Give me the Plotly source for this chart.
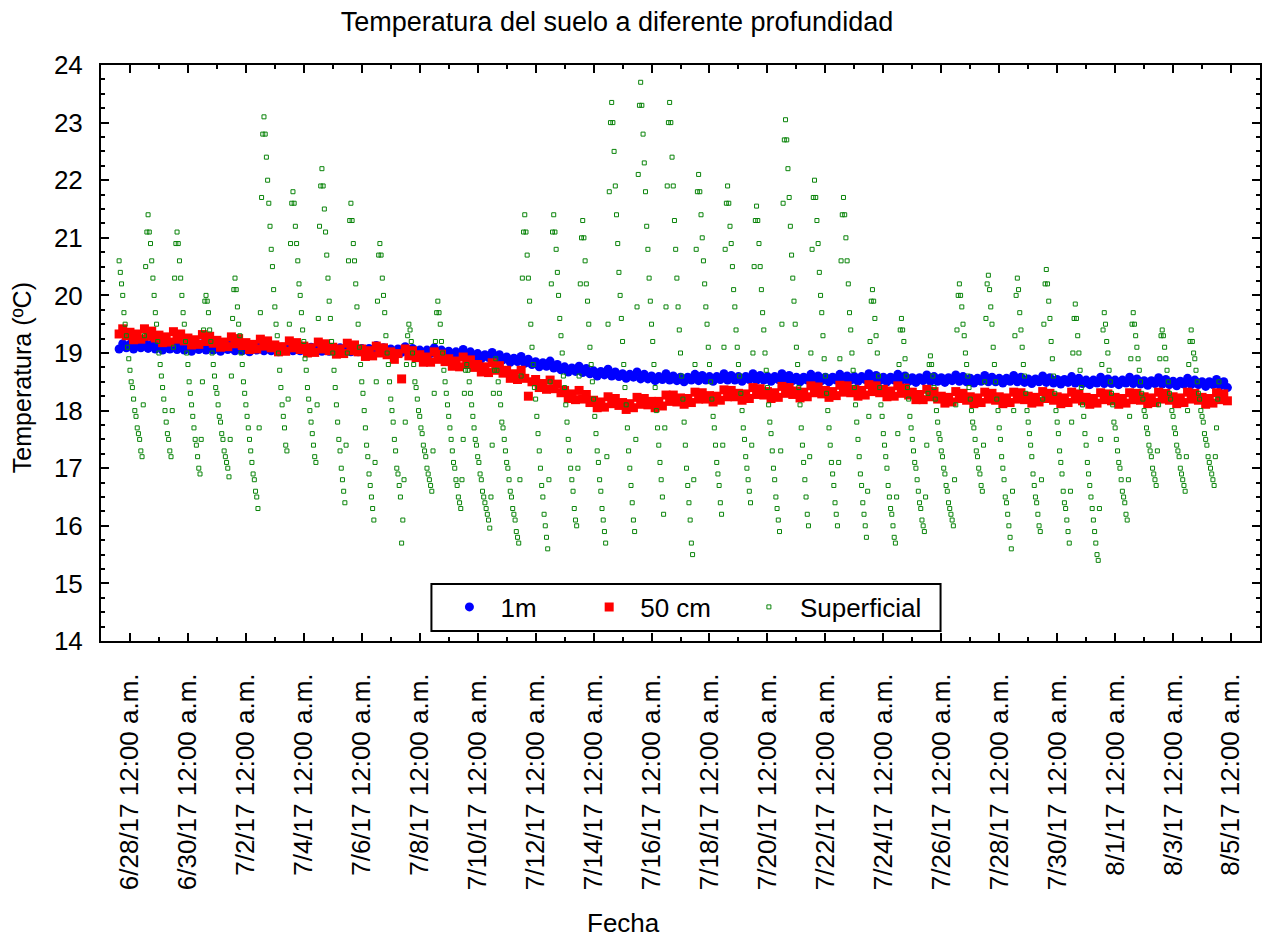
import pandas as pd
import plotly.graph_objects as go

title_text = "Temperatura del suelo a diferente profundidad"
x_title = "Fecha"
y_title = "Temperatura (ºC)"
series_names = ["1m", "50 cm", "Superficial"]

tick_dates = ["2017-06-28", "2017-06-30", "2017-07-02", "2017-07-04", "2017-07-06",
              "2017-07-08", "2017-07-10", "2017-07-12", "2017-07-14", "2017-07-16",
              "2017-07-18", "2017-07-20", "2017-07-22", "2017-07-24", "2017-07-26",
              "2017-07-28", "2017-07-30", "2017-08-01", "2017-08-03", "2017-08-05"]
tick_labels = ["6/28/17 12:00 a.m.", "6/30/17 12:00 a.m.", "7/2/17 12:00 a.m.", "7/4/17 12:00 a.m.",
               "7/6/17 12:00 a.m.", "7/8/17 12:00 a.m.", "7/10/17 12:00 a.m.", "7/12/17 12:00 a.m.",
               "7/14/17 12:00 a.m.", "7/16/17 12:00 a.m.", "7/18/17 12:00 a.m.", "7/20/17 12:00 a.m.",
               "7/22/17 12:00 a.m.", "7/24/17 12:00 a.m.", "7/26/17 12:00 a.m.", "7/28/17 12:00 a.m.",
               "7/30/17 12:00 a.m.", "8/1/17 12:00 a.m.", "8/3/17 12:00 a.m.", "8/5/17 12:00 a.m."]

# sensor readings: deep sensors every 3 h, surface sensor hourly, both from 2017-06-27 15:00
deep_start = "2017-06-27 15:00"
surface_start = "2017-06-27 15:00"

temp_1m = [
    19.07, 19.16, 19.09,
    19.15, 19.07, 19.15, 19.09, 19.19, 19.08, 19.15, 19.07,
    19.13, 19.05, 19.13, 19.07, 19.17, 19.06, 19.13, 19.05,
    19.11, 19.03, 19.11, 19.06, 19.16, 19.05, 19.13, 19.05,
    19.11, 19.03, 19.11, 19.06, 19.16, 19.04, 19.12, 19.04,
    19.10, 19.02, 19.10, 19.05, 19.15, 19.04, 19.12, 19.04,
    19.10, 19.02, 19.10, 19.05, 19.15, 19.04, 19.12, 19.04,
    19.10, 19.02, 19.10, 19.05, 19.15, 19.03, 19.11, 19.03,
    19.09, 19.01, 19.09, 19.04, 19.14, 19.02, 19.10, 19.02,
    19.08, 19.00, 19.08, 19.03, 19.13, 19.01, 19.09, 19.01,
    19.07, 18.99, 19.07, 19.01, 19.11, 19.00, 19.08, 18.99,
    19.05, 18.97, 19.05, 18.99, 19.09, 18.98, 19.05, 18.97,
    19.03, 18.95, 19.02, 18.97, 19.06, 18.95, 19.02, 18.94,
    18.99, 18.90, 18.97, 18.92, 19.01, 18.90, 18.97, 18.88,
    18.93, 18.84, 18.91, 18.85, 18.94, 18.82, 18.89, 18.80,
    18.85, 18.76, 18.83, 18.77, 18.86, 18.74, 18.80, 18.71,
    18.76, 18.67, 18.74, 18.68, 18.77, 18.66, 18.73, 18.64,
    18.69, 18.60, 18.68, 18.62, 18.72, 18.60, 18.67, 18.59,
    18.64, 18.56, 18.63, 18.58, 18.67, 18.55, 18.63, 18.55,
    18.60, 18.52, 18.59, 18.54, 18.64, 18.53, 18.60, 18.52,
    18.58, 18.50, 18.58, 18.53, 18.63, 18.52, 18.61, 18.53,
    18.59, 18.51, 18.59, 18.54, 18.64, 18.53, 18.61, 18.53,
    18.59, 18.51, 18.59, 18.54, 18.64, 18.53, 18.61, 18.53,
    18.59, 18.51, 18.59, 18.54, 18.64, 18.53, 18.61, 18.52,
    18.58, 18.50, 18.58, 18.53, 18.63, 18.52, 18.60, 18.52,
    18.58, 18.50, 18.58, 18.53, 18.63, 18.52, 18.60, 18.53,
    18.59, 18.51, 18.59, 18.54, 18.64, 18.53, 18.61, 18.52,
    18.58, 18.50, 18.58, 18.53, 18.63, 18.52, 18.60, 18.51,
    18.57, 18.49, 18.57, 18.52, 18.62, 18.51, 18.59, 18.51,
    18.57, 18.49, 18.57, 18.52, 18.62, 18.51, 18.59, 18.50,
    18.56, 18.48, 18.56, 18.51, 18.61, 18.50, 18.58, 18.50,
    18.56, 18.48, 18.56, 18.51, 18.61, 18.50, 18.58, 18.49,
    18.55, 18.47, 18.55, 18.50, 18.60, 18.49, 18.57, 18.48,
    18.54, 18.46, 18.54, 18.49, 18.59, 18.48, 18.56, 18.47,
    18.53, 18.45, 18.53, 18.48, 18.58, 18.47, 18.55, 18.47,
    18.53, 18.45, 18.53, 18.48, 18.58, 18.47, 18.55, 18.46,
    18.52, 18.44, 18.52, 18.47, 18.57, 18.46, 18.54, 18.45,
    18.51, 18.43, 18.51, 18.46, 18.56, 18.45, 18.53, 18.45,
    18.50, 18.42, 18.50, 18.45, 18.54, 18.43, 18.50, 18.40,
]

temp_50cm = [
    19.33, 19.42, 19.30,
    19.36, 19.23, 19.33, 19.24, 19.42, 19.29, 19.38, 19.26,
    19.31, 19.18, 19.28, 19.19, 19.37, 19.24, 19.33, 19.21,
    19.26, 19.14, 19.23, 19.15, 19.32, 19.20, 19.29, 19.17,
    19.22, 19.10, 19.19, 19.11, 19.28, 19.16, 19.25, 19.13,
    19.18, 19.06, 19.15, 19.07, 19.24, 19.12, 19.21, 19.09,
    19.14, 19.02, 19.11, 19.03, 19.21, 19.09, 19.18, 19.06,
    19.12, 19.00, 19.09, 19.01, 19.19, 19.07, 19.16, 19.04,
    19.10, 18.98, 19.07, 18.99, 19.17, 19.04, 19.14, 19.02,
    19.07, 18.94, 19.04, 18.95, 19.12, 19.00, 19.09, 18.97,
    19.02, 18.89, 18.99, 18.55, 19.07, 18.95, 19.04, 18.92,
    18.97, 18.84, 18.93, 18.84, 19.02, 18.89, 18.98, 18.85,
    18.90, 18.77, 18.86, 18.76, 18.93, 18.80, 18.88, 18.75,
    18.80, 18.67, 18.76, 18.66, 18.83, 18.70, 18.78, 18.65,
    18.70, 18.56, 18.64, 18.54, 18.70, 18.56, 18.25, 18.50,
    18.54, 18.40, 18.47, 18.37, 18.53, 18.38, 18.46, 18.31,
    18.35, 18.21, 18.29, 18.19, 18.35, 18.20, 18.28, 18.14,
    18.18, 18.05, 18.15, 18.06, 18.24, 18.12, 18.21, 18.09,
    18.14, 18.02, 18.12, 18.05, 18.23, 18.11, 18.21, 18.10,
    18.16, 18.05, 18.16, 18.08, 18.27, 18.16, 18.27, 18.15,
    18.22, 18.11, 18.21, 18.14, 18.32, 18.20, 18.31, 18.20,
    18.26, 18.15, 18.25, 18.18, 18.36, 18.24, 18.35, 18.24,
    18.30, 18.18, 18.29, 18.21, 18.40, 18.28, 18.38, 18.27,
    18.33, 18.21, 18.31, 18.23, 18.42, 18.30, 18.40, 18.28,
    18.34, 18.22, 18.32, 18.24, 18.43, 18.31, 18.41, 18.29,
    18.35, 18.23, 18.33, 18.26, 18.44, 18.32, 18.43, 18.31,
    18.37, 18.25, 18.35, 18.27, 18.45, 18.33, 18.43, 18.31,
    18.37, 18.24, 18.34, 18.25, 18.43, 18.30, 18.39, 18.27,
    18.32, 18.19, 18.28, 18.19, 18.37, 18.24, 18.33, 18.20,
    18.25, 18.13, 18.23, 18.15, 18.33, 18.21, 18.30, 18.18,
    18.24, 18.12, 18.22, 18.14, 18.32, 18.20, 18.30, 18.18,
    18.24, 18.12, 18.22, 18.14, 18.32, 18.20, 18.31, 18.19,
    18.25, 18.13, 18.23, 18.15, 18.33, 18.21, 18.30, 18.18,
    18.24, 18.12, 18.22, 18.14, 18.32, 18.20, 18.29, 18.17,
    18.23, 18.11, 18.21, 18.13, 18.31, 18.19, 18.29, 18.17,
    18.23, 18.11, 18.21, 18.13, 18.31, 18.19, 18.30, 18.18,
    18.24, 18.12, 18.22, 18.14, 18.32, 18.20, 18.30, 18.18,
    18.24, 18.12, 18.22, 18.14, 18.32, 18.20, 18.30, 18.18,
    18.23, 18.11, 18.21, 18.13, 18.31, 18.19, 18.29, 18.17,
]

temp_superficial = [
    20.6, 20.4, 20.2, 20.0, 19.7, 19.5, 19.3, 19.1, 18.9,
    18.7, 18.5, 18.4, 18.2, 18.0, 17.9, 17.7, 17.6, 17.5, 17.3, 17.2, 18.1, 19.3, 20.5, 21.1, 21.4, 21.1, 20.9, 20.6, 20.3, 20.0, 19.7, 19.5, 19.2,
    19.0, 18.8, 18.6, 18.4, 18.2, 18.0, 17.8, 17.6, 17.5, 17.3, 17.2, 18.0, 19.1, 20.3, 20.9, 21.1, 20.9, 20.6, 20.3, 20.0, 19.7, 19.5, 19.2, 19.0,
    18.8, 18.5, 18.3, 18.1, 17.9, 17.7, 17.5, 17.4, 17.2, 17.0, 16.9, 17.5, 18.5, 19.4, 19.9, 20.0, 19.9, 19.7, 19.4, 19.2, 19.0, 18.8, 18.6, 18.4,
    18.3, 18.1, 17.9, 17.8, 17.6, 17.5, 17.3, 17.2, 17.1, 17.0, 16.85, 17.5, 18.6, 19.6, 20.1, 20.3, 20.1, 19.8, 19.5, 19.3, 19.0, 18.8, 18.5, 18.3,
    18.1, 17.9, 17.7, 17.5, 17.3, 17.1, 16.9, 16.8, 16.6, 16.5, 16.3, 17.7, 19.7, 21.7, 22.8, 23.1, 22.8, 22.4, 22.0, 21.6, 21.2, 20.8, 20.5, 20.1,
    19.8, 19.5, 19.3, 19.0, 18.7, 18.4, 18.1, 17.9, 17.7, 17.4, 17.3, 18.2, 19.5, 20.9, 21.6, 21.8, 21.6, 21.2, 20.9, 20.6, 20.2, 20.0, 19.7, 19.4,
    19.2, 18.9, 18.7, 18.4, 18.2, 18.0, 17.8, 17.6, 17.4, 17.2, 17.1, 18.1, 19.6, 21.2, 21.9, 22.2, 21.9, 21.5, 21.1, 20.7, 20.3, 19.9, 19.6, 19.2,
    19.0, 18.7, 18.4, 18.1, 17.8, 17.5, 17.3, 17.0, 16.8, 16.6, 16.4, 17.4, 19.0, 20.6, 21.3, 21.6, 21.3, 20.9, 20.6, 20.2, 19.8, 19.5, 19.1, 18.8,
    18.5, 18.3, 18.0, 17.7, 17.4, 17.2, 16.9, 16.7, 16.5, 16.3, 16.1, 17.1, 18.5, 19.9, 20.7, 20.9, 20.7, 20.3, 20.0, 19.7, 19.3, 19.0, 18.8, 18.5,
    18.2, 18.0, 17.8, 17.5, 17.3, 17.0, 16.9, 16.7, 16.5, 15.7, 16.1, 16.8, 17.8, 18.8, 19.3, 19.5, 19.4, 19.2, 19.0, 18.8, 18.5, 18.4, 18.2, 18.0,
    17.9, 17.7, 17.6, 17.4, 17.3, 17.2, 17.0, 16.9, 16.8, 16.7, 16.6, 17.3, 18.3, 19.2, 19.7, 19.9, 19.7, 19.5, 19.2, 19.0, 18.7, 18.5, 18.3, 18.1,
    17.9, 17.7, 17.5, 17.3, 17.1, 17.0, 16.8, 16.7, 16.5, 16.4, 16.3, 16.8, 17.5, 18.3, 18.7, 18.8, 18.7, 18.5, 18.3, 18.1, 17.9, 17.7, 17.5, 17.4,
    17.2, 17.1, 16.9, 16.8, 16.6, 16.5, 16.4, 16.3, 16.2, 16.1, 15.96, 16.5, 17.4, 18.3, 18.7, 18.9, 18.7, 18.5, 18.3, 18.1, 17.8, 17.7, 17.5, 17.3,
    17.1, 17.0, 16.8, 16.6, 16.5, 16.3, 16.2, 16.1, 15.9, 15.8, 15.7, 16.8, 18.6, 20.3, 21.1, 21.4, 21.1, 20.7, 20.3, 19.9, 19.5, 19.1, 18.8, 18.4,
    18.2, 17.9, 17.6, 17.3, 17.0, 16.7, 16.5, 16.2, 16.0, 15.8, 15.6, 16.8, 18.5, 20.2, 21.1, 21.4, 21.1, 20.8, 20.4, 20.0, 19.6, 19.3, 19.0, 18.6,
    18.4, 18.1, 17.8, 17.5, 17.3, 17.0, 16.8, 16.6, 16.3, 16.1, 16.0, 17.0, 18.6, 20.2, 21.0, 21.3, 21.0, 20.6, 20.2, 19.9, 19.5, 19.1, 18.8, 18.5,
    18.2, 17.9, 17.6, 17.3, 17.1, 16.8, 16.6, 16.3, 16.1, 15.9, 15.7, 17.2, 19.5, 21.8, 23.0, 23.35, 23.0, 22.5, 21.9, 21.4, 20.9, 20.4, 20.0, 19.6,
    19.2, 18.8, 18.4, 18.1, 17.7, 17.3, 17.0, 16.7, 16.4, 16.1, 15.9, 17.5, 19.8, 22.1, 23.3, 23.7, 23.3, 22.8, 22.3, 21.8, 21.2, 20.8, 20.3, 19.9,
    19.5, 19.2, 18.8, 18.4, 18.0, 17.7, 17.4, 17.1, 16.8, 16.5, 16.2, 17.7, 19.8, 21.9, 23.0, 23.35, 23.0, 22.4, 21.9, 21.3, 20.8, 20.3, 19.8, 19.4,
    19.0, 18.6, 18.2, 17.8, 17.4, 17.0, 16.7, 16.4, 16.1, 15.7, 15.5, 16.8, 18.8, 20.8, 21.8, 22.1, 21.8, 21.4, 21.0, 20.6, 20.2, 19.8, 19.5, 19.1,
    18.8, 18.5, 18.2, 17.9, 17.7, 17.4, 17.1, 16.9, 16.7, 16.4, 16.2, 17.4, 19.1, 20.8, 21.6, 21.9, 21.6, 21.2, 20.9, 20.5, 20.1, 19.8, 19.4, 19.1,
    18.8, 18.6, 18.3, 18.0, 17.7, 17.5, 17.2, 17.0, 16.8, 16.6, 16.4, 17.4, 19.0, 20.5, 21.3, 21.55, 21.3, 20.9, 20.5, 20.1, 19.7, 19.4, 19.0, 18.7,
    18.4, 18.1, 17.8, 17.6, 17.3, 17.0, 16.8, 16.5, 16.3, 16.1, 15.9, 17.3, 19.5, 21.6, 22.7, 23.05, 22.7, 22.2, 21.7, 21.2, 20.7, 20.3, 19.9, 19.5,
    19.1, 18.8, 18.4, 18.1, 17.7, 17.4, 17.1, 16.8, 16.5, 16.2, 16.0, 17.2, 19.0, 20.8, 21.7, 22.0, 21.7, 21.3, 20.9, 20.4, 20.0, 19.7, 19.3, 18.9,
    18.6, 18.3, 18.0, 17.7, 17.4, 17.1, 16.9, 16.7, 16.4, 16.2, 16.0, 17.1, 18.9, 20.6, 21.4, 21.7, 21.4, 21.0, 20.6, 20.2, 19.7, 19.4, 19.0, 18.7,
    18.4, 18.1, 17.8, 17.5, 17.2, 16.9, 16.7, 16.4, 16.2, 16.0, 15.8, 16.6, 17.9, 19.2, 19.9, 20.1, 19.9, 19.6, 19.3, 19.0, 18.6, 18.4, 18.1, 17.9,
    17.6, 17.4, 17.2, 17.0, 16.7, 16.5, 16.3, 16.2, 16.0, 15.8, 15.7, 16.5, 17.6, 18.8, 19.4, 19.6, 19.4, 19.2, 18.9, 18.6, 18.4, 18.2, 17.9, 17.7,
    17.5, 17.3, 17.1, 17.0, 16.8, 16.6, 16.4, 16.3, 16.1, 16.0, 15.9, 16.5, 17.4, 18.3, 18.8, 18.95, 18.8, 18.6, 18.4, 18.2, 18.0, 17.8, 17.6, 17.5,
    17.3, 17.2, 17.0, 16.9, 16.7, 16.6, 16.4, 16.3, 16.2, 16.1, 16.0, 16.8, 18.1, 19.4, 20.0, 20.2, 20.0, 19.8, 19.5, 19.3, 19.0, 18.8, 18.6, 18.4,
    18.2, 18.0, 17.8, 17.7, 17.5, 17.3, 17.2, 17.0, 16.9, 16.7, 16.6, 17.4, 18.5, 19.6, 20.2, 20.35, 20.1, 19.8, 19.5, 19.1, 18.8, 18.5, 18.2, 18.0,
    17.7, 17.5, 17.2, 17.0, 16.8, 16.5, 16.4, 16.2, 16.0, 15.8, 15.6, 16.6, 18.0, 19.3, 20.0, 20.3, 20.1, 19.7, 19.4, 19.1, 18.8, 18.6, 18.3, 18.0,
    17.8, 17.6, 17.4, 17.2, 16.9, 16.7, 16.5, 16.4, 16.2, 16.0, 15.9, 16.8, 18.2, 19.5, 20.2, 20.45, 20.2, 19.9, 19.6, 19.2, 18.9, 18.6, 18.3, 18.0,
    17.8, 17.6, 17.3, 17.1, 16.9, 16.6, 16.4, 16.3, 16.1, 15.9, 15.7, 16.6, 17.8, 19.0, 19.6, 19.85, 19.6, 19.3, 19.0, 18.7, 18.4, 18.1, 17.9, 17.6,
    17.4, 17.1, 16.9, 16.7, 16.5, 16.3, 16.1, 15.9, 15.7, 15.5, 15.4, 16.3, 17.5, 18.8, 19.4, 19.7, 19.5, 19.2, 19.0, 18.7, 18.5, 18.3, 18.1, 17.8,
    17.7, 17.5, 17.3, 17.1, 17.0, 16.8, 16.6, 16.5, 16.4, 16.2, 16.1, 16.8, 17.9, 18.9, 19.5, 19.7, 19.5, 19.3, 19.1, 18.9, 18.7, 18.5, 18.3, 18.2,
    18.0, 17.9, 17.7, 17.6, 17.4, 17.3, 17.2, 17.0, 16.9, 16.8, 16.7, 17.3, 18.1, 18.9, 19.3, 19.4, 19.3, 19.1, 18.9, 18.7, 18.5, 18.3, 18.2, 18.0,
    17.9, 17.7, 17.6, 17.4, 17.3, 17.2, 17.0, 16.9, 16.8, 16.7, 16.6, 17.2, 18.0, 18.8, 19.2, 19.4, 19.2, 19.0, 18.9, 18.7, 18.5, 18.3, 18.2, 18.0,
    17.9, 17.8, 17.6, 17.5, 17.4, 17.2, 17.1, 17.0, 16.9, 16.8, 16.7, 17.2, 17.7, 18.2, 18.5,
]

assert len(temp_1m) == len(temp_50cm) == 307
assert len(temp_superficial) == 912

t_deep = pd.date_range(deep_start, periods=len(temp_1m), freq="3h")
t_surf = pd.date_range(surface_start, periods=len(temp_superficial), freq="h")

fig = go.Figure()
fig.add_trace(go.Scatter(x=t_deep, y=temp_1m, mode="markers", name=series_names[0], legend="legend",
                         showlegend=True,
                         marker=dict(symbol="circle", size=9, color="#0000ff", line=dict(width=0))))
fig.add_trace(go.Scatter(x=t_deep, y=temp_50cm, mode="markers", name=series_names[1], legend="legend2",
                         showlegend=True,
                         marker=dict(symbol="square", size=9, color="#ff0000", line=dict(width=0))))
fig.add_trace(go.Scatter(x=t_surf, y=temp_superficial, mode="markers", name=series_names[2], legend="legend3",
                         showlegend=True,
                         marker=dict(symbol="square-open", size=4, color="#0a840a", line=dict(width=1))))

W, H = 1267, 940
L, R, T, B = 101, 5, 65, 299
pw, ph = W - L - R, H - T - B


def px_x(p):
    return (p - L) / pw


def px_y(p):
    return (H - B - p) / ph


axis_common = dict(showline=True, linewidth=2, linecolor="black", mirror="allticks",
                   ticks="inside", ticklen=8, tickwidth=2, tickcolor="black",
                   showgrid=False, zeroline=False)

legend_common = dict(orientation="h", xanchor="left", yanchor="middle", y=px_y(607),
                     bgcolor="rgba(0,0,0,0)", borderwidth=0, itemwidth=52,
                     font=dict(size=26))

fig.update_layout(
    width=W, height=H,
    showlegend=True,
    margin=dict(l=L, r=R, t=T, b=B, pad=0),
    paper_bgcolor="white", plot_bgcolor="white",
    font=dict(family="Liberation Sans, Arial, sans-serif", size=26, color="black"),
    title=dict(text=title_text, xref="container", yref="container",
               x=617 / W, y=1 - 22 / H, xanchor="center", yanchor="middle",
               font=dict(size=27)),
    xaxis=dict(type="date", range=["2017-06-27", "2017-08-06"],
               tickmode="array", tickvals=tick_dates, ticktext=tick_labels,
               tickangle=-90, tickfont=dict(size=26), ticklabelstandoff=20,
               minor=dict(tickmode="linear", tick0="2017-06-27", dtick=86400000,
                          ticks="inside", ticklen=4, tickwidth=2, tickcolor="black", showgrid=False),
               **axis_common),
    yaxis=dict(range=[14, 24], tickmode="linear", tick0=14, dtick=1,
               tickfont=dict(size=26), ticklabelstandoff=11,
               minor=dict(tickmode="linear", tick0=14, dtick=0.25,
                          ticks="inside", ticklen=4, tickwidth=2, tickcolor="black", showgrid=False),
               **axis_common),
    legend=dict(x=px_x(439), **legend_common),
    legend2=dict(x=px_x(579), **legend_common),
    legend3=dict(x=px_x(739), **legend_common),
    shapes=[dict(type="rect", xref="paper", yref="paper",
                 x0=px_x(432), x1=px_x(942), y0=px_y(631), y1=px_y(584),
                 line=dict(color="black", width=2), fillcolor="white", layer="above")],
    annotations=[
        dict(text=x_title, xref="paper", yref="paper", x=px_x(624), y=px_y(923),
             xanchor="center", yanchor="middle", showarrow=False, font=dict(size=26)),
        dict(text=y_title, xref="paper", yref="paper", x=px_x(22), y=px_y(378),
             xanchor="center", yanchor="middle", showarrow=False, textangle=-90, font=dict(size=25)),
    ],
)

fig.write_html("out.html")
